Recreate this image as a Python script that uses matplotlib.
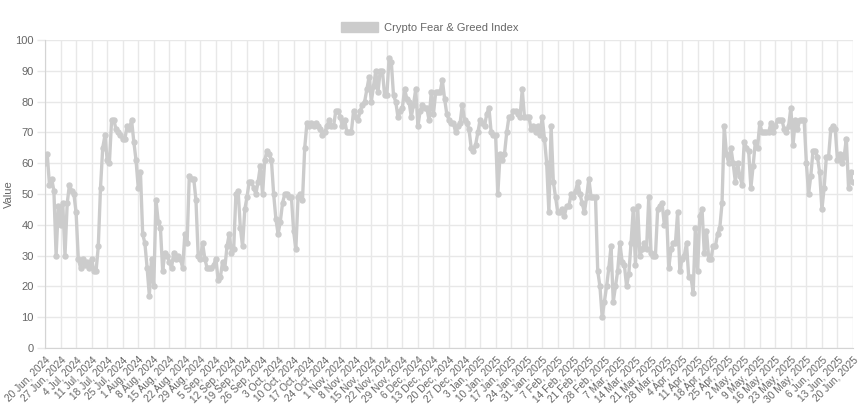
import matplotlib
matplotlib.use("Agg")
import matplotlib.pyplot as plt
from matplotlib.patches import Patch
import pandas as pd

plt.rcParams['font.family'] = ['Liberation Sans', 'DejaVu Sans']

# daily dates, one day (31 Oct 2024) is missing in the source data
dates = pd.date_range("2024-06-20", "2025-06-20", freq="D")
dates = dates[dates != pd.Timestamp("2024-10-31")]

fear_greed = [
    60, 63, 53, 55, 51, 30, 46,
    40, 47, 30, 47, 53, 51, 50,
    44, 29, 26, 29, 27, 28, 26,
    29, 25, 25, 33, 52, 65, 69,
    61, 60, 74, 74, 71, 70, 69,
    68, 68, 72, 71, 74, 67, 61,
    52, 57, 37, 34, 26, 17, 29,
    20, 48, 41, 39, 25, 31, 30,
    28, 26, 31, 29, 30, 29, 26,
    37, 34, 56, 55, 55, 48, 30,
    29, 34, 29, 26, 26, 26, 27,
    29, 22, 23, 28, 26, 33, 37,
    31, 32, 50, 51, 39, 33, 45,
    49, 54, 54, 52, 50, 54, 59,
    50, 61, 64, 63, 61, 50, 42,
    37, 41, 47, 50, 50, 49, 49,
    38, 32, 49, 50, 48, 65, 73,
    72, 73, 72, 73, 72, 71, 69,
    70, 72, 74, 72, 72, 77, 77,
    75, 72, 74, 70, 70, 70, 77,
    75, 74, 77, 79, 80, 84, 88,
    80, 85, 90, 83, 90, 90, 82,
    82, 94, 93, 82, 80, 75, 77,
    78, 84, 81, 80, 75, 79, 84,
    72, 77, 79, 78, 78, 74, 83,
    76, 83, 83, 83, 87, 81, 76,
    74, 73, 73, 70, 72, 73, 79,
    74, 73, 71, 65, 64, 66, 70,
    74, 73, 72, 76, 78, 70, 69,
    69, 50, 63, 61, 63, 70, 75,
    75, 77, 77, 76, 75, 84, 75,
    75, 75, 71, 72, 70, 72, 69,
    75, 68, 60, 44, 72, 54, 49,
    44, 44, 45, 43, 46, 46, 50,
    49, 51, 54, 50, 47, 44, 49,
    55, 49, 49, 49, 25, 20, 10,
    15, 20, 26, 33, 15, 20, 25,
    34, 28, 27, 20, 24, 34, 45,
    27, 46, 30, 32, 34, 32, 49,
    31, 30, 30, 45, 46, 47, 40,
    44, 26, 32, 34, 34, 44, 25,
    29, 30, 34, 23, 23, 18, 39,
    25, 43, 45, 31, 38, 29, 29,
    33, 33, 37, 39, 47, 72, 63,
    60, 65, 60, 54, 60, 56, 53,
    67, 65, 64, 52, 59, 67, 65,
    73, 70, 70, 70, 70, 73, 70,
    72, 74, 74, 74, 71, 70, 72,
    78, 66, 74, 71, 74, 74, 74,
    60, 50, 56, 64, 64, 62, 57,
    45, 52, 62, 62, 71, 72, 71,
    61, 63, 60, 62, 68, 52, 57,
    54,
]

labels = [f"{d.day} {d.strftime('%b')}, {d.year}" for d in dates]
x = list(range(len(fear_greed)))

line_col = "#cccccc"
grid_col = "#e8e8e8"
text_col = "#666666"

fig = plt.figure(figsize=(8.59, 4.18), dpi=100)
ax = fig.add_axes([0.0524, 0.1675, 0.9406, 0.7368])

ax.plot(x, fear_greed, color=line_col, lw=2.4, marker="o", ms=3.6,
        markerfacecolor=line_col, markeredgecolor=line_col, zorder=3)

ax.set_xlim(0, len(x) - 1)
ax.set_ylim(0, 100)
ax.set_yticks(range(0, 101, 10))
tick_pos = x[::7]
ax.set_xticks(tick_pos)
ax.set_xticklabels([labels[i] for i in tick_pos], rotation=45, ha="right",
                   rotation_mode="anchor", fontsize=7.3, color=text_col)
ax.tick_params(axis="y", labelsize=8, labelcolor=text_col,
               color=grid_col, length=6, width=1, pad=2)
ax.tick_params(axis="x", length=0, pad=5)

ax.grid(True, color=grid_col, lw=1)
ax.set_axisbelow(True)
for s in ["top", "right"]:
    ax.spines[s].set_visible(False)
for s in ["left", "bottom"]:
    ax.spines[s].set_color("#d4d4d4")

fig.text(0.011, 0.535, "Value", rotation=90, ha="center", va="center",
         fontsize=8, color=text_col)

handle = Patch(facecolor=line_col, edgecolor=line_col, label="Crypto Fear & Greed Index")
fig.legend(handles=[handle], loc="center", bbox_to_anchor=(0.5, 0.934),
           frameon=False, fontsize=8, labelcolor=text_col,
           handlelength=3.4, handleheight=0.95, handletextpad=0.5)

fig.savefig("out.png", dpi=100, facecolor="white")
